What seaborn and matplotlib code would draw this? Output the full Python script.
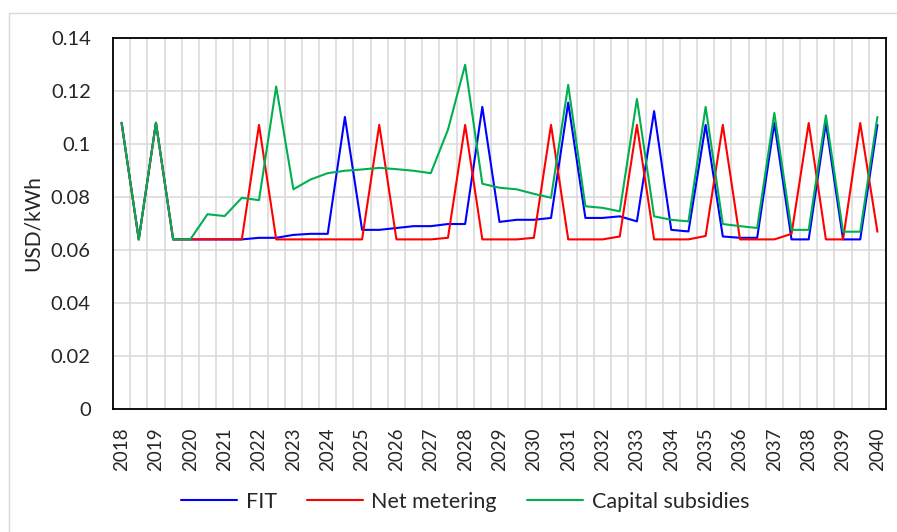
import pandas as pd
import numpy as np
import matplotlib.pyplot as plt
from matplotlib.patches import Rectangle
import seaborn as sns

# half-year steps, labelled every whole year
years = list(range(2018, 2041))
n_points = 45

fit = [0.108, 0.064, 0.108, 0.064, 0.064, 0.064, 0.064, 0.064, 0.0646, 0.0646,
       0.0657, 0.0661, 0.0661, 0.1102, 0.0676, 0.0676, 0.0683, 0.069, 0.069, 0.0698,
       0.0698, 0.114, 0.0706, 0.0714, 0.0714, 0.0721, 0.1156, 0.0721, 0.0721, 0.0727,
       0.0708, 0.1124, 0.0676, 0.067, 0.1072, 0.0651, 0.0646, 0.0646, 0.1079, 0.064,
       0.064, 0.1079, 0.064, 0.064, 0.1072]

net_metering = [0.108, 0.064, 0.108, 0.064, 0.064, 0.064, 0.064, 0.064, 0.1072, 0.064,
                0.064, 0.064, 0.064, 0.064, 0.064, 0.1072, 0.064, 0.064, 0.064, 0.0646,
                0.1072, 0.064, 0.064, 0.064, 0.0646, 0.1072, 0.064, 0.064, 0.064, 0.0651,
                0.1072, 0.064, 0.064, 0.064, 0.0653, 0.1072, 0.064, 0.064, 0.064, 0.0661,
                0.1079, 0.064, 0.064, 0.1079, 0.0669]

capital_subsidies = [0.108, 0.064, 0.108, 0.064, 0.064, 0.0735, 0.0728, 0.0797, 0.0788, 0.1217,
                     0.0829, 0.0866, 0.089, 0.0899, 0.0904, 0.091, 0.0905, 0.0899, 0.089, 0.1054,
                     0.1299, 0.085, 0.0835, 0.0829, 0.0812, 0.0797, 0.1223, 0.0765, 0.0759, 0.0746,
                     0.117, 0.0727, 0.0714, 0.0708, 0.114, 0.0698, 0.069, 0.0683, 0.1117, 0.0676,
                     0.0676, 0.1108, 0.0669, 0.0669, 0.1102]

series = {'FIT': fit, 'Net metering': net_metering, 'Capital subsidies': capital_subsidies}
colors = {'FIT': '#0000FF', 'Net metering': '#FF0000', 'Capital subsidies': '#00B050'}

frames = []
for name, vals in series.items():
    frames.append(pd.DataFrame({'step': np.arange(n_points), 'value': vals, 'scheme': name}))
df = pd.concat(frames, ignore_index=True)

sns.set_style('white')
plt.rcParams['font.family'] = ['Lato', 'DejaVu Sans']

fig = plt.figure(figsize=(8.97, 5.32), dpi=100)
ax = fig.add_axes([113 / 897, 1 - 409 / 532, 773 / 897, 371 / 532])

sns.lineplot(data=df, x='step', y='value', hue='scheme', hue_order=list(series.keys()),
             palette=colors, linewidth=1.5, ax=ax, legend=False, zorder=3)

ax.set_xlim(-0.5, n_points - 0.5)
ax.set_ylim(0, 0.14)
ax.set_xticks(np.arange(0, n_points, 2))
ax.set_xticklabels([str(y) for y in years], rotation=90, fontsize=13.5)
ax.set_xticks(np.arange(0.5, n_points - 1, 1), minor=True)
ax.set_yticks(np.arange(0, 0.141, 0.02))
ax.set_yticklabels(['0', '0.02', '0.04', '0.06', '0.08', '0.1', '0.12', '0.14'], fontsize=14.5)
ax.tick_params(axis='both', which='both', length=0)
ax.tick_params(axis='y', pad=16)
ax.tick_params(axis='x', pad=13)

ax.grid(True, axis='y', color='#D9D9D9', linewidth=1.1)
ax.grid(True, axis='x', which='minor', color='#D9D9D9', linewidth=1.1)
ax.set_axisbelow(True)
for s in ax.spines.values():
    s.set_color('black')
    s.set_linewidth(1.3)

ax.set_xlabel('')
ax.set_ylabel('USD/kWh', fontsize=15, labelpad=6)

handles = [plt.Line2D([], [], color=colors[k], linewidth=1.5) for k in series]
fig.legend(handles, list(series.keys()), loc='center', bbox_to_anchor=(465 / 897, 1 - 502 / 532),
           ncol=3, frameon=False, fontsize=15.5, handlelength=2.6, columnspacing=1.4, handletextpad=0.4)

# chart-area border (cropped at right/bottom)
fig.patches.append(Rectangle((9 / 897, -0.1), 1.2, 1 - 13 / 532 + 0.1, transform=fig.transFigure,
                             fill=False, edgecolor='#D9D9D9', linewidth=1))

fig.savefig('out.png', dpi=100)
